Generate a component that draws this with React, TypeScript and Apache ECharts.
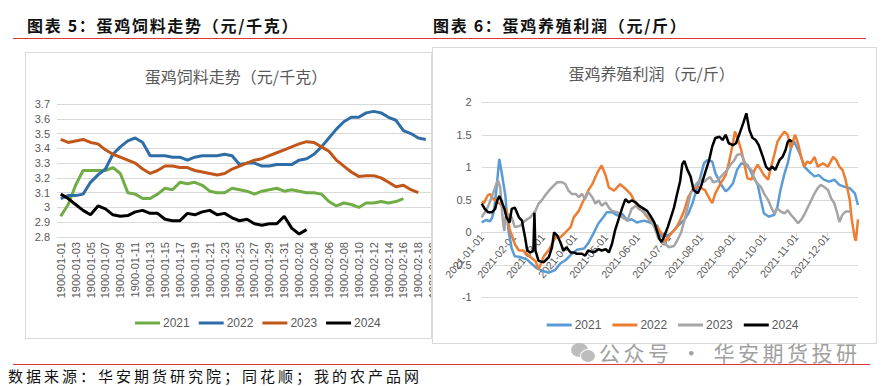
import React, { useEffect, useRef } from 'react';
import * as echarts from 'echarts';

// ---------- Chart 5: feed price (yuan/kg), weekly categories ----------
const feedCategories: string[] = (() => {
  const out: string[] = [];
  for (let i = 0; i < 52; i++) {
    out.push(new Date(Date.UTC(1900, 0, 1 + i)).toISOString().slice(0, 10));
  }
  return out;
})();

const feed2021 = [2.94, 3.02, 3.15, 3.25, 3.25, 3.25, 3.25, 3.27, 3.23, 3.10, 3.09, 3.06, 3.06, 3.09, 3.13, 3.12, 3.17, 3.16, 3.17, 3.15, 3.11, 3.10, 3.10, 3.13, 3.12, 3.11, 3.09, 3.11, 3.12, 3.13, 3.11, 3.12, 3.11, 3.10, 3.10, 3.09, 3.04, 3.01, 3.03, 3.02, 3.00, 3.03, 3.03, 3.04, 3.03, 3.04, 3.06];
const feed2022 = [3.06, 3.08, 3.08, 3.09, 3.17, 3.22, 3.26, 3.36, 3.41, 3.45, 3.47, 3.44, 3.35, 3.35, 3.35, 3.34, 3.34, 3.32, 3.34, 3.35, 3.35, 3.35, 3.36, 3.35, 3.29, 3.30, 3.30, 3.28, 3.28, 3.29, 3.29, 3.29, 3.32, 3.33, 3.36, 3.41, 3.47, 3.53, 3.58, 3.61, 3.61, 3.64, 3.65, 3.64, 3.61, 3.59, 3.52, 3.50, 3.47, 3.46];
const feed2023 = [3.46, 3.44, 3.45, 3.46, 3.44, 3.43, 3.39, 3.36, 3.34, 3.32, 3.30, 3.26, 3.23, 3.25, 3.28, 3.28, 3.27, 3.27, 3.25, 3.24, 3.23, 3.22, 3.23, 3.26, 3.28, 3.30, 3.32, 3.33, 3.35, 3.37, 3.39, 3.41, 3.43, 3.445, 3.44, 3.41, 3.38, 3.32, 3.28, 3.24, 3.21, 3.215, 3.215, 3.20, 3.17, 3.14, 3.15, 3.12, 3.10];
const feed2024 = [3.09, 3.06, 3.02, 2.98, 2.95, 3.01, 2.99, 2.95, 2.94, 2.945, 2.97, 2.98, 2.96, 2.96, 2.92, 2.91, 2.91, 2.96, 2.95, 2.97, 2.98, 2.95, 2.96, 2.93, 2.91, 2.92, 2.89, 2.88, 2.89, 2.89, 2.94, 2.86, 2.82, 2.85];

// ---------- Chart 6: layer farming profit (yuan/jin), daily axis ----------
const profitDates: string[] = (() => {
  const out: string[] = [];
  for (let i = 0; i < 365; i++) {
    out.push(new Date(Date.UTC(2021, 0, 1 + i)).toISOString().slice(0, 10));
  }
  return out;
})();

// day-of-year offsets (0 = Jan 1) and values
const days2021 = [0, 4, 8, 10, 12, 14, 17, 19, 21, 23, 24, 26, 29, 32, 37, 44, 48, 53, 60, 65, 71, 76, 81, 86, 92, 99, 103, 108, 113, 118, 121, 126, 131, 136, 141, 145, 150, 157, 163, 170, 173, 176, 180, 183, 189, 196, 200, 204, 207, 210, 212, 215, 218, 223, 226, 231, 236, 239, 243, 247, 251, 257, 262, 267, 270, 273, 278, 283, 286, 289, 293, 296, 299, 302, 306, 309, 312, 317, 322, 326, 331, 336, 341, 346, 351, 356, 361, 364];
const profit2021 = [0.15, 0.19, 0.17, 0.22, 0.35, 0.62, 1.13, 0.95, 0.75, 0.55, 0.35, 0.02, -0.25, -0.37, -0.38, -0.42, -0.48, -0.55, -0.60, -0.62, -0.58, -0.48, -0.43, -0.35, -0.27, -0.25, -0.17, -0.02, 0.14, 0.24, 0.31, 0.31, 0.26, 0.28, 0.18, 0.20, 0.15, 0.18, 0.15, 0.10, -0.07, -0.02, -0.05, -0.02, 0.09, 0.19, 0.29, 0.45, 0.62, 0.76, 0.88, 1.06, 1.11, 1.09, 0.91, 0.75, 0.63, 0.67, 0.75, 0.96, 1.06, 1.04, 0.88, 0.73, 0.50, 0.29, 0.24, 0.27, 0.39, 0.65, 0.91, 1.06, 1.29, 1.40, 1.27, 1.16, 1.01, 0.93, 0.86, 0.88, 0.81, 0.78, 0.81, 0.73, 0.70, 0.68, 0.60, 0.42];

const days2022 = [0, 2, 6, 8, 11, 15, 19, 24, 27, 32, 36, 40, 47, 52, 55, 60, 65, 70, 73, 76, 81, 86, 89, 94, 97, 100, 103, 107, 110, 113, 116, 120, 123, 128, 131, 134, 139, 144, 149, 154, 158, 163, 170, 176, 178, 183, 188, 192, 196, 200, 205, 210, 216, 221, 223, 226, 231, 236, 239, 243, 245, 248, 251, 254, 257, 261, 264, 267, 270, 273, 277, 280, 283, 286, 289, 293, 296, 299, 303, 306, 309, 312, 315, 318, 322, 325, 330, 335, 340, 343, 346, 349, 352, 356, 358, 361, 362, 364];
const profit2022 = [0.47, 0.45, 0.57, 0.59, 0.52, 0.47, 0.42, 0.34, 0.05, -0.18, -0.28, -0.28, -0.38, -0.44, -0.57, -0.37, -0.27, -0.12, -0.05, -0.08, 0.00, 0.08, 0.23, 0.33, 0.44, 0.54, 0.64, 0.74, 0.85, 0.95, 1.03, 0.87, 0.69, 0.64, 0.69, 0.74, 0.67, 0.59, 0.44, 0.36, 0.28, 0.18, 0.08, -0.07, -0.14, -0.02, 0.06, 0.19, 0.34, 0.55, 0.68, 0.70, 0.65, 0.50, 0.45, 0.60, 0.75, 0.88, 1.06, 1.37, 1.55, 1.42, 1.27, 1.06, 0.83, 0.81, 0.96, 1.04, 0.96, 0.88, 0.81, 1.01, 1.19, 1.39, 1.47, 1.55, 1.50, 1.29, 1.50, 1.37, 1.16, 1.01, 1.09, 1.06, 1.16, 1.01, 1.06, 1.01, 1.16, 1.11, 1.01, 0.96, 0.81, 0.50, 0.19, -0.10, -0.13, 0.20];

const days2023 = [0, 3, 6, 11, 15, 16, 18, 19, 21, 22, 23, 26, 29, 32, 37, 42, 47, 52, 55, 58, 61, 65, 68, 73, 78, 81, 84, 87, 91, 94, 97, 100, 103, 107, 110, 113, 116, 120, 123, 126, 131, 136, 141, 145, 149, 152, 157, 162, 167, 171, 176, 181, 186, 189, 193, 196, 199, 202, 205, 209, 212, 215, 218, 221, 224, 228, 231, 234, 237, 241, 244, 247, 251, 254, 257, 261, 264, 267, 270, 273, 277, 280, 283, 286, 289, 293, 296, 299, 302, 306, 309, 312, 315, 319, 322, 325, 328, 331, 335, 338, 341, 344, 346, 349, 352, 357];
const profit2023 = [0.23, 0.31, 0.39, 0.60, 0.78, 0.79, 0.68, 0.45, 0.10, 0.02, 0.23, 0.28, 0.23, 0.08, 0.10, 0.18, 0.23, 0.33, 0.44, 0.49, 0.56, 0.64, 0.69, 0.77, 0.77, 0.74, 0.64, 0.59, 0.59, 0.54, 0.59, 0.51, 0.62, 0.54, 0.44, 0.49, 0.41, 0.46, 0.38, 0.33, 0.31, 0.23, 0.18, 0.36, 0.41, 0.36, 0.31, 0.23, 0.08, -0.10, -0.15, -0.23, -0.21, -0.13, 0.00, 0.18, 0.38, 0.59, 0.69, 0.77, 0.82, 0.77, 0.82, 0.85, 0.77, 0.79, 0.85, 0.90, 0.95, 1.05, 1.10, 1.19, 1.21, 1.09, 1.01, 0.96, 0.81, 0.75, 0.70, 0.60, 0.50, 0.39, 0.29, 0.37, 0.32, 0.29, 0.34, 0.27, 0.22, 0.14, 0.19, 0.27, 0.37, 0.50, 0.60, 0.68, 0.73, 0.70, 0.65, 0.52, 0.45, 0.29, 0.16, 0.27, 0.32, 0.32];

const days2024 = [0, 3, 6, 10, 13, 15, 17, 19, 22, 24, 27, 29, 32, 36, 39, 40, 42, 44, 47, 50, 51, 52, 55, 60, 65, 68, 70, 73, 76, 79, 82, 86, 89, 92, 97, 100, 103, 108, 113, 116, 120, 123, 126, 129, 133, 136, 139, 142, 145, 149, 152, 157, 160, 163, 167, 170, 172, 174, 176, 180, 183, 186, 189, 192, 194, 196, 199, 202, 205, 209, 212, 216, 220, 223, 226, 230, 233, 236, 239, 243, 246, 249, 253, 256, 259, 262, 265, 268, 272, 275, 278, 281, 284, 288, 291, 294, 296, 298, 300];
const profit2024 = [0.44, 0.36, 0.31, 0.31, 0.36, 0.49, 0.56, 0.49, 0.36, 0.23, 0.15, 0.36, 0.38, 0.23, 0.18, 0.08, -0.08, -0.28, -0.31, -0.28, 0.30, -0.28, -0.44, -0.46, -0.38, -0.23, 0.00, -0.05, -0.15, -0.28, -0.23, -0.31, -0.31, -0.33, -0.33, -0.36, -0.28, -0.31, -0.26, -0.28, -0.26, -0.31, -0.18, 0.03, 0.23, 0.38, 0.51, 0.46, 0.49, 0.46, 0.41, 0.36, 0.33, 0.26, 0.15, 0.00, -0.10, -0.15, -0.08, 0.08, 0.23, 0.38, 0.59, 0.79, 1.05, 1.10, 0.96, 0.86, 0.65, 0.60, 0.70, 0.91, 1.11, 1.32, 1.45, 1.47, 1.42, 1.50, 1.37, 1.34, 1.37, 1.50, 1.68, 1.83, 1.57, 1.45, 1.42, 1.34, 1.16, 1.01, 0.96, 1.01, 0.96, 1.11, 1.16, 1.27, 1.39, 1.42, 1.39];

const legendNames = ['2021', '2022', '2023', '2024'];
const feedColors = ['#70AD47', '#2E6DA8', '#C0561A', '#000000'];
const profitColors = ['#5B9BD5', '#ED7D31', '#A5A5A5', '#000000'];

const FONT = '"Liberation Sans", "Noto Sans CJK SC", sans-serif';
const CJK = '"Noto Sans CJK SC", sans-serif';

function useChart(option: any) {
  const ref = useRef<HTMLDivElement>(null);
  useEffect(() => {
    if (!ref.current) return;
    const chart = echarts.init(ref.current, null, { renderer: 'svg' });
    chart.setOption(option);
    return () => chart.dispose();
  }, []);
  return ref;
}

const grey = '#595959';
const gridGrey = '#D9D9D9';

const titleText = (text: string, x: number, y: number) => ({
  type: 'text',
  x,
  y,
  silent: true,
  style: {
    text,
    fill: grey,
    fontSize: 16,
    fontFamily: CJK,
    textAlign: 'center',
    textVerticalAlign: 'middle',
  },
});

const feedOption = {
  animation: false,
  textStyle: { fontFamily: FONT },
  graphic: [titleText('蛋鸡饲料走势（元/千克）', 210, 22.5)],
  legend: {
    data: legendNames,
    left: 104,
    top: 259,
    icon: 'rect',
    itemWidth: 25,
    itemHeight: 3,
    itemGap: 9,
    textStyle: { fontSize: 12, color: grey, padding: [0, 0, 0, -2] },
  },
  grid: { left: 31, top: 51, width: 387.4, height: 133 },
  xAxis: {
    type: 'category',
    data: feedCategories,
    boundaryGap: true,
    axisLine: { lineStyle: { color: gridGrey } },
    axisTick: { interval: 0, length: 4, lineStyle: { color: gridGrey } },
    axisLabel: { interval: 1, rotate: 90, fontSize: 11, color: grey, margin: 5 },
  },
  yAxis: {
    type: 'value',
    min: 2.8,
    max: 3.7,
    interval: 0.1,
    axisLine: { show: false },
    axisTick: { show: false },
    axisLabel: { fontSize: 11, color: grey, margin: 7 },
    splitLine: { lineStyle: { color: gridGrey } },
  },
  series: [feed2021, feed2022, feed2023, feed2024].map((d, i) => ({
    name: legendNames[i],
    type: 'line',
    data: d,
    symbol: 'none',
    lineStyle: { width: 3, color: feedColors[i] },
    itemStyle: { color: feedColors[i] },
  })),
};

const monthStart = (_i: number, v: string) => v.endsWith('-01');

const profitPairs = [
  [days2021, profit2021],
  [days2022, profit2022],
  [days2023, profit2023],
  [days2024, profit2024],
] as [number[], number[]][];

const PROFIT_GRID_H = 195;
const PROFIT_MIN = -1;
const PROFIT_MAX = 2;

const profitOption = {
  animation: false,
  textStyle: { fontFamily: FONT },
  graphic: [titleText('蛋鸡养殖利润（元/斤）', 231.7, 24.7)],
  legend: {
    data: legendNames,
    left: 121.7,
    top: 266,
    icon: 'rect',
    itemWidth: 25,
    itemHeight: 3,
    itemGap: 11,
    textStyle: { fontSize: 12, color: grey, padding: [0, 0, 0, -2] },
  },
  grid: { left: 61.7, top: 54.3, width: 376.3, height: PROFIT_GRID_H },
  xAxis: {
    type: 'category',
    data: profitDates,
    boundaryGap: false,
    // the axis crosses the value axis at 0
    offset: -PROFIT_GRID_H * (0 - PROFIT_MIN) / (PROFIT_MAX - PROFIT_MIN),
    axisLine: { onZero: false, lineStyle: { color: gridGrey } },
    axisTick: { interval: monthStart, length: 4, lineStyle: { color: gridGrey } },
    axisLabel: { interval: monthStart, rotate: 50, fontSize: 10.5, color: grey, margin: 3 },
  },
  yAxis: {
    type: 'value',
    min: PROFIT_MIN,
    max: PROFIT_MAX,
    interval: 0.5,
    axisLine: { show: false },
    axisTick: { show: false },
    axisLabel: { fontSize: 11, color: grey, margin: 10 },
    splitLine: { lineStyle: { color: gridGrey } },
  },
  series: profitPairs.map(([days, vals], i) => ({
    name: legendNames[i],
    type: 'line',
    data: days.map((d, k) => [profitDates[d], vals[k]]),
    symbol: 'none',
    lineStyle: { width: 2.5, color: profitColors[i] },
    itemStyle: { color: profitColors[i] },
  })),
};

export default function App() {
  const leftRef = useChart(feedOption);
  const rightRef = useChart(profitOption);
  const headStyle: React.CSSProperties = {
    position: 'absolute',
    top: 15,
    fontFamily: CJK,
    fontWeight: 'bold',
    fontSize: 16,
    letterSpacing: 1.7,
    color: '#111',
    whiteSpace: 'nowrap',
    lineHeight: '20px',
  };
  return (
    <div style={{ position: 'absolute', left: 0, top: 0, width: 883, height: 386, background: '#fff', overflow: 'hidden' }}>
      <div style={{ ...headStyle, left: 27 }}>图表 5：蛋鸡饲料走势（元/千克）</div>
      <div style={{ ...headStyle, left: 433 }}>图表 6：蛋鸡养殖利润（元/斤）</div>
      <div style={{ position: 'absolute', left: 13, top: 38, width: 853, height: 1, background: '#D9363E' }} />

      <div style={{ position: 'absolute', left: 25, top: 52, width: 407, height: 287, border: '1px solid #D9D9D9', boxSizing: 'border-box', overflow: 'hidden' }}>
        <div ref={leftRef} style={{ position: 'absolute', left: 0, top: 0, width: 440, height: 285 }} />
      </div>

      <div style={{ position: 'absolute', left: 432, top: 47, width: 445, height: 297, border: '1px solid #D9D9D9', boxSizing: 'border-box', background: '#fff' }} />
      <div ref={rightRef} style={{ position: 'absolute', left: 420, top: 48, width: 455, height: 295 }} />

      {/* watermark */}
      <div style={{ position: 'absolute', left: 571, top: 343, width: 17, height: 14, borderRadius: '50%', background: '#BDBDBD' }} />
      <div style={{ position: 'absolute', left: 580, top: 349, width: 14, height: 12, borderRadius: '50%', background: '#BDBDBD', border: '1px solid #fff' }} />
      <div style={{ position: 'absolute', left: 599, top: 339, fontFamily: CJK, fontSize: 21, letterSpacing: 3.5, color: '#A0A0A0', whiteSpace: 'nowrap', lineHeight: '26px' }}>公众号 · 华安期货投研</div>

      <div style={{ position: 'absolute', left: 13, top: 364, width: 857, height: 1, background: '#D9363E' }} />
      <div style={{ position: 'absolute', left: 8, top: 366, fontFamily: CJK, fontSize: 15, letterSpacing: 3, color: '#111', whiteSpace: 'nowrap', lineHeight: '19px' }}>数据来源：华安期货研究院；同花顺；我的农产品网</div>
    </div>
  );
}
